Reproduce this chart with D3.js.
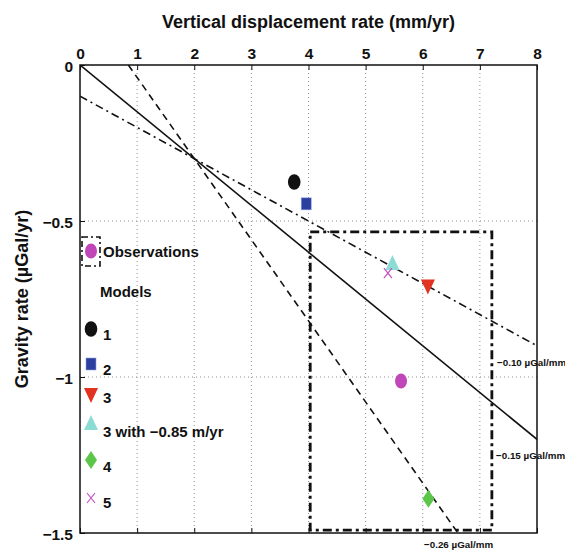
<!DOCTYPE html>
<html>
<head>
<meta charset="utf-8">
<script src="https://cdn.jsdelivr.net/npm/d3@7"></script>
<style>
  body { margin: 0; background: #fff; }
  svg text { font-family: "Liberation Sans", Arial, sans-serif; font-weight: bold; fill: #111; }
</style>
</head>
<body>
<div id="chart"></div>
<script>
// ticks
const xTicks = [0, 1, 2, 3, 4, 5, 6, 7, 8]
const yTicks = [0, -0.5, -1, -1.5]
const yTickLabels = ["0", "\u22120.5", "\u22121", "\u22121.5"]

// reference lines: slope (µGal per mm) and intercept
const lineSlopes = [-0.15, -0.10, -0.26]
const lineIntercepts = [0, -0.10, 0.22]
const lineLabels = ["\u22120.15 \u00b5Gal/mm", "\u22120.10 \u00b5Gal/mm", "\u22120.26 \u00b5Gal/mm"]

// observation + error box
const obsX = 5.62
const obsY = -1.013
const obsErrX = 1.59
const obsErrY = 0.478

// models
const modelNames = ["1", "2", "3", "3 with \u22120.85 m/yr", "4", "5"]
const modelX = [3.75, 3.96, 6.09, 5.47, 6.1, 5.39]
const modelY = [-0.375, -0.445, -0.71, -0.635, -1.39, -0.667]

const width = 565, height = 550
const margin = { top: 65, right: 28, bottom: 17, left: 80 }

const svg = d3.select("#chart").append("svg")
  .attr("width", width)
  .attr("height", height)

const x = d3.scaleLinear().domain([0, 8]).range([margin.left, width - margin.right])
const y = d3.scaleLinear().domain([0, -1.5]).range([margin.top, height - margin.bottom])

// grid
svg.append("g").selectAll("line")
  .data(xTicks.slice(1, -1))
  .enter().append("line")
  .attr("x1", d => x(d)).attr("x2", d => x(d))
  .attr("y1", y(0)).attr("y2", y(-1.5))
  .attr("stroke", "#777").attr("stroke-width", 0.8)
  .attr("stroke-dasharray", "1,3")

svg.append("g").selectAll("line")
  .data(yTicks.slice(1, -1))
  .enter().append("line")
  .attr("x1", x(0)).attr("x2", x(8))
  .attr("y1", d => y(d)).attr("y2", d => y(d))
  .attr("stroke", "#777").attr("stroke-width", 0.8)
  .attr("stroke-dasharray", "1,3")

// axes (ticks inside)
const xAxis = d3.axisTop(x).tickValues(xTicks).tickSize(-5).tickPadding(6).tickFormat(d3.format("d"))
const gx = svg.append("g").attr("transform", `translate(0,${margin.top})`).call(xAxis)
const xAxisBottom = d3.axisBottom(x).tickValues(xTicks).tickSize(-5).tickFormat("")
const gxb = svg.append("g").attr("transform", `translate(0,${height - margin.bottom})`).call(xAxisBottom)
const yAxis = d3.axisLeft(y).tickValues(yTicks).tickSize(-5).tickPadding(7)
  .tickFormat((d, i) => yTickLabels[i])
const gy = svg.append("g").attr("transform", `translate(${margin.left},0)`).call(yAxis)

;[gx, gxb, gy].forEach(g => {
  g.select(".domain").remove()
  g.selectAll("line").attr("stroke", "#111").attr("stroke-width", 1)
  g.selectAll("text").style("font-size", "15.5px").style("font-weight", "bold").attr("fill", "#111")
})
gy.selectAll("text").attr("dy", "0.4em")

// clip for lines
svg.append("clipPath").attr("id", "plot-clip")
  .append("rect")
  .attr("x", x(0)).attr("y", y(0))
  .attr("width", x(8) - x(0)).attr("height", y(-1.5) - y(0))

const lineStyles = [null, "8,4,2,4", "7,5"]
const clipped = svg.append("g").attr("clip-path", "url(#plot-clip)")

lineSlopes.forEach((s, i) => {
  clipped.append("line")
    .attr("x1", x(0)).attr("y1", y(lineIntercepts[i]))
    .attr("x2", x(8)).attr("y2", y(lineIntercepts[i] + s * 8))
    .attr("stroke", "#111").attr("stroke-width", 1.6)
    .attr("stroke-dasharray", lineStyles[i])
})

// observation error box
svg.append("rect")
  .attr("x", x(obsX - obsErrX)).attr("y", y(obsY + obsErrY))
  .attr("width", x(obsX + obsErrX) - x(obsX - obsErrX))
  .attr("height", y(obsY - obsErrY) - y(obsY + obsErrY))
  .attr("fill", "none").attr("stroke", "#111").attr("stroke-width", 2.8)
  .attr("stroke-dasharray", "9,4,3,4")

// frame
svg.append("rect")
  .attr("x", x(0)).attr("y", y(0))
  .attr("width", x(8) - x(0)).attr("height", y(-1.5) - y(0))
  .attr("fill", "none").attr("stroke", "#111").attr("stroke-width", 1.5)

// markers
const colors = ["#111111", "#2c3f9f", "#e23222", "#8ddcd4", "#5cc64a", "#c34fbf"]
const obsColor = "#bf47b8"

function drawMarker(g, i, cx, cy) {
  if (i === 0) {
    g.append("ellipse").attr("cx", cx).attr("cy", cy).attr("rx", 6.3).attr("ry", 7.8).attr("fill", colors[0])
  } else if (i === 1) {
    g.append("rect").attr("x", cx - 5).attr("y", cy - 6).attr("width", 10).attr("height", 12)
      .attr("fill", colors[1]).attr("stroke", "#8fa0e0").attr("stroke-width", 0.6)
  } else if (i === 2) {
    g.append("path").attr("d", `M${cx - 7},${cy - 7}L${cx + 7},${cy - 7}L${cx},${cy + 8}Z`).attr("fill", colors[2])
  } else if (i === 3) {
    g.append("path").attr("d", `M${cx - 7},${cy + 7}L${cx + 7},${cy + 7}L${cx},${cy - 8}Z`).attr("fill", colors[3])
  } else if (i === 4) {
    g.append("path").attr("d", `M${cx},${cy - 9}L${cx + 6},${cy}L${cx},${cy + 9}L${cx - 6},${cy}Z`).attr("fill", colors[4])
  } else {
    g.append("path").attr("d", `M${cx - 4},${cy - 5}L${cx + 4},${cy + 5}M${cx - 4},${cy + 5}L${cx + 4},${cy - 5}`)
      .attr("stroke", colors[5]).attr("stroke-width", 1.2).attr("fill", "none")
  }
}

const marks = svg.append("g")
modelX.forEach((mx, i) => drawMarker(marks, i, x(mx), y(modelY[i])))
marks.append("ellipse")
  .attr("cx", x(obsX)).attr("cy", y(obsY)).attr("rx", 6).attr("ry", 7.5).attr("fill", obsColor)

// line labels
const labelPos = [[496, 459], [497, 366], [424, 548]]
lineLabels.forEach((t, i) => {
  svg.append("text")
    .attr("x", labelPos[i][0]).attr("y", labelPos[i][1])
    .style("font-size", "9.8px")
    .text(t)
})

// legend
const legend = svg.append("g")
legend.append("rect")
  .attr("x", 82).attr("y", 237).attr("width", 18).attr("height", 29)
  .attr("fill", "none").attr("stroke", "#111").attr("stroke-width", 1.6)
  .attr("stroke-dasharray", "6,3,2,3")
legend.append("ellipse").attr("cx", 91).attr("cy", 251).attr("rx", 6).attr("ry", 7.5).attr("fill", obsColor)
legend.append("text").attr("x", 103).attr("y", 257).style("font-size", "15px").text("Observations")
legend.append("text").attr("x", 100).attr("y", 297).style("font-size", "15px").text("Models")

const legendMarkerY = [329, 364, 395, 423, 460, 498]
const legendTextY = [340, 375, 403, 437, 472, 508]
modelNames.forEach((n, i) => {
  drawMarker(legend, i, 91, legendMarkerY[i])
  legend.append("text").attr("x", 103).attr("y", legendTextY[i]).style("font-size", "15px").text(n)
})

// titles
svg.append("text")
  .attr("x", x(4)).attr("y", 28)
  .attr("text-anchor", "middle")
  .style("font-size", "18px")
  .text("Vertical displacement rate (mm/yr)")

svg.append("text")
  .attr("transform", `translate(28,${y(-0.75)}) rotate(-90)`)
  .attr("text-anchor", "middle")
  .style("font-size", "18px")
  .text("Gravity rate (\u00b5Gal/yr)")
</script>
</body>
</html>
